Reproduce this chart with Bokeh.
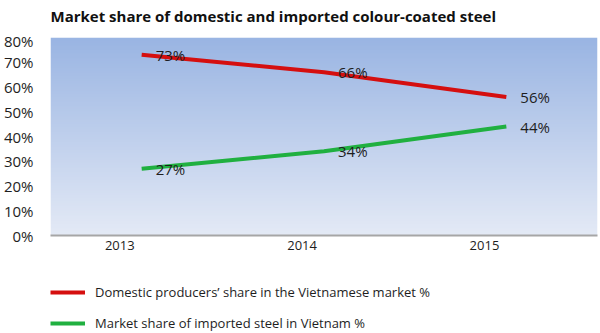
import numpy as np
from bokeh.plotting import figure
from bokeh.layouts import column
from bokeh.models import (Range1d, FixedTicker, CustomJSTickFormatter, PrintfTickFormatter,
                          Legend, LegendItem, ColumnDataSource, Label)
from bokeh.core.properties import value
from bokeh.embed import file_html
from bokeh.resources import INLINE

# ---- data ----
years = [2013, 2014, 2015]
year_labels = ["2013", "2014", "2015"]
domestic_share = [73, 66, 56]
imported_share = [27, 34, 44]
domestic_labels = ["73%", "66%", "56%"]
imported_labels = ["27%", "34%", "44%"]
y_ticks = [0, 10, 20, 30, 40, 50, 60, 70, 80]

title_text = "Market share of domestic and imported colour-coated steel"
domestic_name = "Domestic producers\u2019 share in the Vietnamese market %"
imported_name = "Market share of imported steel in Vietnam %"

FONT = "Open Sans"
TXT = "#1e1e1e"
RED = "#d50f0f"
GREEN = "#20b040"

# ---- title strip ----
tf = figure(width=600, height=30, output_backend="svg", toolbar_location=None,
            x_axis_type=None, y_axis_type=None,
            x_range=Range1d(0, 547), y_range=Range1d(0, 30),
            min_border_left=0, min_border_right=0, min_border_top=0, min_border_bottom=0)
tf.outline_line_color = None
tf.xgrid.visible = False
tf.ygrid.visible = False
tf.add_layout(Label(x=0, y=15, text=title_text, text_font=FONT, text_font_style="bold",
                    text_font_size="15px", text_color="#111111",
                    text_align="left", text_baseline="alphabetic"))

# ---- main chart ----
p = figure(width=600, height=230, output_backend="svg", toolbar_location=None,
           x_range=Range1d(2012.5, 2015.5), y_range=Range1d(0, 80),
           min_border_left=50, min_border_right=3, min_border_top=7, min_border_bottom=25)

p.background_fill_color = "white"
p.border_fill_color = "white"
p.outline_line_color = None
p.xgrid.visible = False
p.ygrid.visible = False

# gradient background of plot area
n = 120
top = np.array([0x9A, 0xB5, 0xE3], dtype=float)
bot = np.array([0xE4, 0xEA, 0xF6], dtype=float)
t = np.linspace(0, 1, n)[:, None]
cols = (bot * (1 - t) + top * t).astype(np.uint32)
img = np.empty((n, 1), dtype=np.uint32)
view = img.view(dtype=np.uint8).reshape((n, 1, 4))
view[:, 0, 0] = cols[:, 0]
view[:, 0, 1] = cols[:, 1]
view[:, 0, 2] = cols[:, 2]
view[:, 0, 3] = 255
p.image_rgba(image=[img], x=2012.5, y=0, dw=3, dh=80)

# lines
src = ColumnDataSource(dict(x=years, dom=domestic_share, imp=imported_share,
                            dl=domestic_labels, il=imported_labels))
p.line("x", "dom", source=src, line_color=RED, line_width=4)
p.line("x", "imp", source=src, line_color=GREEN, line_width=4)

p.text("x", "dom", text="dl", source=src, x_offset=14, text_align="left",
       text_baseline="middle", text_font=value(FONT), text_font_size="15px", text_color=TXT)
p.text("x", "imp", text="il", source=src, x_offset=14, text_align="left",
       text_baseline="middle", text_font=value(FONT), text_font_size="15px", text_color=TXT)

# axes
xa = p.xaxis[0]
xa.ticker = FixedTicker(ticks=[y - 0.12 for y in years])
xa.formatter = CustomJSTickFormatter(code="return String(Math.round(tick + 0.12));")
xa.axis_line_color = "#a6a6a6"
xa.axis_line_width = 2
xa.major_tick_line_color = None
xa.minor_tick_line_color = None
xa.major_tick_out = 0
xa.major_tick_in = 0
xa.major_label_standoff = 5
xa.major_label_text_font = FONT
xa.major_label_text_font_size = "13px"
xa.major_label_text_color = TXT

ya = p.yaxis[0]
ya.ticker = FixedTicker(ticks=y_ticks)
ya.formatter = PrintfTickFormatter(format="%d%%")
ya.axis_line_color = None
ya.major_tick_line_color = None
ya.minor_tick_line_color = None
ya.major_tick_out = 0
ya.major_tick_in = 0
ya.major_label_standoff = 17
ya.major_label_text_font = FONT
ya.major_label_text_font_size = "15px"
ya.major_label_text_color = TXT

# ---- legend strip under the chart (its lines carry the same series, kept out of view) ----
lg = figure(width=600, height=73, output_backend="svg", toolbar_location=None,
            x_axis_type=None, y_axis_type=None,
            x_range=Range1d(0, 1), y_range=Range1d(0, 1),
            min_border_left=0, min_border_right=0, min_border_top=0, min_border_bottom=0)
lg.outline_line_color = None
lg.xgrid.visible = False
lg.ygrid.visible = False
l_dom = lg.line(x=years, y=domestic_share, line_color=RED, line_width=4)
l_imp = lg.line(x=years, y=imported_share, line_color=GREEN, line_width=4)

legend = Legend(items=[LegendItem(label=domestic_name, renderers=[l_dom]),
                       LegendItem(label=imported_name, renderers=[l_imp])],
                location=(0, 0), orientation="vertical",
                padding=0, margin=0, spacing=11, glyph_width=35, glyph_height=20,
                label_height=20, label_standoff=10,
                label_text_font=FONT, label_text_font_size="13px", label_text_color=TXT,
                background_fill_alpha=0, border_line_alpha=0)
lg.add_layout(legend, "center")

layout = column(tf, p, lg, spacing=0)
open("out.html", "w").write(file_html(layout, INLINE))
